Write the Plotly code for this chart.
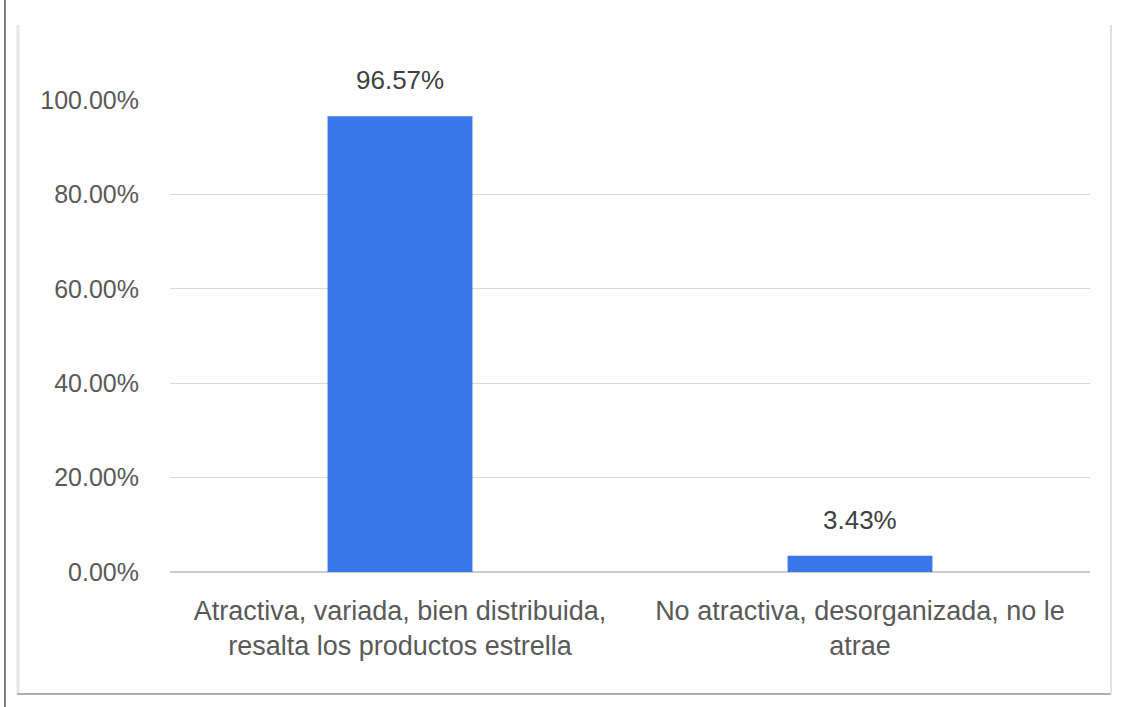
import plotly.graph_objects as go

categories = ["Atractiva, variada, bien distribuida,<br>resalta los productos estrella",
              "No atractiva, desorganizada, no le<br>atrae"]
values = [0.9657, 0.0343]
value_labels = ["96.57%", "3.43%"]
tick_vals = [0, 0.2, 0.4, 0.6, 0.8, 1.0]
tick_text = ["0.00%", "20.00%", "40.00%", "60.00%", "80.00%", "100.00%"]

W, H = 1124, 707
L, R, T, B = 170, 34, 100, 135
pw, ph = W - L - R, H - T - B

def px(x):
    return (x - L) / pw

def py(y):
    return 1 - (y - T) / ph

FONT = "Liberation Sans, Arial, sans-serif"

fig = go.Figure(go.Bar(
    x=categories, y=values,
    marker=dict(color="#3A78E8", line=dict(width=0)),
    cliponaxis=False, width=0.315,
))

for c, v, t in zip(categories, values, value_labels):
    fig.add_annotation(x=c, y=v, text=t, showarrow=False, yanchor="bottom", yshift=19,
                       font=dict(family=FONT, size=26, color="#404040"))

fig.update_layout(
    width=W, height=H, margin=dict(l=L, r=R, t=T, b=B),
    paper_bgcolor="white", plot_bgcolor="white",
    font=dict(family=FONT, size=25, color="#595959"),
    showlegend=False,
    xaxis=dict(showline=False, showgrid=False, ticks="", ticklabelstandoff=20,
               tickfont=dict(size=27, color="#595959")),
    yaxis=dict(range=[0, 1], tickvals=tick_vals, ticktext=tick_text, showgrid=True,
               gridcolor="#d9d9d9", gridwidth=1, zeroline=True, zerolinecolor="#cccccc",
               zerolinewidth=2, ticks="", ticklabelstandoff=30, showline=False,
               tickfont=dict(size=25, color="#595959")),
    shapes=[
        dict(type="line", xref="paper", yref="paper", x0=px(5), x1=px(5), y0=py(0), y1=py(707),
             line=dict(color="#808080", width=2)),
        dict(type="line", xref="paper", yref="paper", x0=px(18), x1=px(18), y0=py(25), y1=py(694),
             line=dict(color="#e6e6e6", width=3)),
        dict(type="line", xref="paper", yref="paper", x0=px(17), x1=px(1111), y0=py(694), y1=py(694),
             line=dict(color="#b0b0b0", width=2)),
        dict(type="line", xref="paper", yref="paper", x0=px(1111), x1=px(1111), y0=py(25), y1=py(694),
             line=dict(color="#e0e0e0", width=2)),
    ],
)

fig.write_html("out.html")
